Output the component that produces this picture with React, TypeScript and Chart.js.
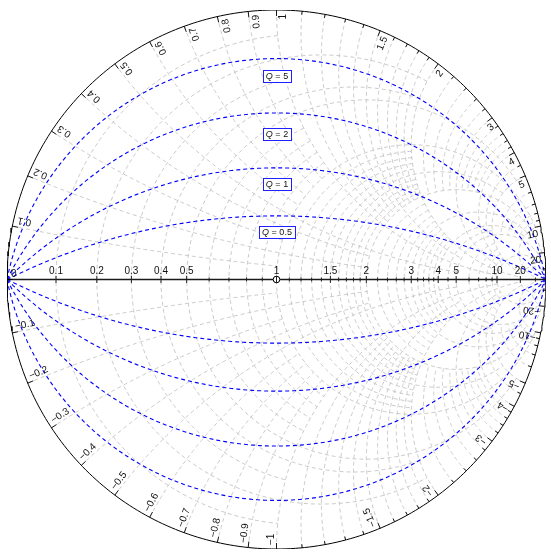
import React, { useEffect, useRef } from "react";
import { Chart, registerables } from "chart.js";

Chart.register(...registerables);

// ---- Real axis (resistance) ticks ----
const resistanceTicks = [0.1, 0.2, 0.3, 0.4, 0.5, 1, 1.5, 2, 3, 4, 5, 10, 20];
const resistanceTickLabels = ["0.1", "0.2", "0.3", "0.4", "0.5", "1", "1.5", "2", "3", "4", "5", "10", "20"];
const resistanceMinorTicks = [0.6, 0.7, 0.8, 0.9, 1.1, 1.2, 1.3, 1.4, 1.6, 1.7, 1.8, 1.9, 2.2, 2.4, 2.6, 2.8, 3.2, 3.4, 3.6, 3.8, 4.5, 6, 7, 8, 9, 50];

// ---- Rim (reactance) ticks ----
const reactanceTicks = [0, 0.1, 0.2, 0.3, 0.4, 0.5, 0.6, 0.7, 0.8, 0.9, 1, 1.5, 2, 3, 4, 5, 10, 20,
  -0.1, -0.2, -0.3, -0.4, -0.5, -0.6, -0.7, -0.8, -0.9, -1, -1.5, -2, -3, -4, -5, -10, -20];
const reactanceTickLabels = ["0", "0.1", "0.2", "0.3", "0.4", "0.5", "0.6", "0.7", "0.8", "0.9", "1", "1.5", "2", "3", "4", "5", "10", "20",
  "\u22120.1", "\u22120.2", "\u22120.3", "\u22120.4", "\u22120.5", "\u22120.6", "\u22120.7", "\u22120.8", "\u22120.9", "\u22121", "\u22121.5", "\u22122", "\u22123", "\u22124", "\u22125", "\u221210", "\u221220"];
const reactanceMinorTicks = [1.1, 1.2, 1.3, 1.4, 1.6, 1.7, 1.8, 1.9, 2.2, 2.4, 2.6, 2.8, 3.2, 3.4, 3.6, 3.8, 4.5, 6, 7, 8, 9, 50,
  -1.1, -1.2, -1.3, -1.4, -1.6, -1.7, -1.8, -1.9, -2.2, -2.4, -2.6, -2.8, -3.2, -3.4, -3.6, -3.8, -4.5, -6, -7, -8, -9, -50];

// ---- Grid: resistance circles and where they stop (|reactance|) ----
const gridResistance = [0.1, 0.2, 0.3, 0.4, 0.5, 0.6, 0.7, 0.8, 0.9, 1, 1.1, 1.2, 1.3, 1.4, 1.5, 1.6, 1.7, 1.8, 1.9, 2, 2.2, 2.4, 2.6, 2.8, 3, 3.2, 3.4, 3.6, 3.8, 4, 4.5, 5, 6, 7, 8, 9, 10, 20, 50];
const gridResistanceStop = [1, 2, 1, 2, 5, 1, 1, 1, 1, 10, 2, 2, 2, 2, 5, 2, 2, 2, 2, 20, 2, 2, 2, 2, 10, 2, 2, 2, 2, 10, 5, 20, 5, 5, 5, 5, 50, 50, 50];

// ---- Grid: reactance arcs and where they stop (resistance) ----
const gridReactance = [0.1, 0.2, 0.3, 0.4, 0.5, 0.6, 0.7, 0.8, 0.9, 1, 1.1, 1.2, 1.3, 1.4, 1.5, 1.6, 1.7, 1.8, 1.9, 2, 2.2, 2.4, 2.6, 2.8, 3, 3.2, 3.4, 3.6, 3.8, 4, 4.5, 5, 6, 7, 8, 9, 10, 20, 50];
const gridReactanceStop = [1, 2, 1, 2, 5, 1, 1, 1, 1, 10, 2, 2, 2, 2, 5, 2, 2, 2, 2, 20, 2, 2, 2, 2, 10, 2, 2, 2, 2, 10, 5, 20, 5, 5, 5, 5, 50, 50, 50];

// ---- Constant-Q circles ----
const qValues = [0.5, 1, 2, 5];
const qLabels = ["0.5", "1", "2", "5"];
const qLabelGammaIm = [0.177, 0.354, 0.539, 0.756];

type P = { x: number; y: number };

function gamma(r: number, x: number): P {
  const d = (r + 1) * (r + 1) + x * x;
  return { x: (r * r + x * x - 1) / d, y: (2 * x) / d };
}

function resistanceArc(r: number, xStop: number): P[] {
  const c = r / (1 + r);
  const rho = 1 / (1 + r);
  const g = gamma(r, xStop);
  let phi = Math.atan2(g.y, g.x - c);
  if (phi < 0) phi = 0;
  const pts: P[] = [];
  const n = 180;
  for (let i = 0; i <= n; i++) {
    const psi = phi + ((2 * Math.PI - 2 * phi) * i) / n;
    pts.push({ x: c + rho * Math.cos(psi), y: rho * Math.sin(psi) });
  }
  return pts;
}

function reactanceArc(x: number, rStop: number): P[] {
  const ax = Math.abs(x);
  const cy = 1 / ax;
  const rho = 1 / ax;
  const norm = (a: number) => (a < 0 ? a + 2 * Math.PI : a);
  const g0 = gamma(0, ax);
  const g1 = gamma(rStop, ax);
  const a0 = norm(Math.atan2(g0.y - cy, g0.x - 1));
  const a1 = norm(Math.atan2(g1.y - cy, g1.x - 1));
  const pts: P[] = [];
  const n = 140;
  const sgn = x < 0 ? -1 : 1;
  for (let i = 0; i <= n; i++) {
    const a = a0 + ((a1 - a0) * i) / n;
    pts.push({ x: 1 + rho * Math.cos(a), y: sgn * (cy + rho * Math.sin(a)) });
  }
  return pts;
}

function qArc(q: number, sgn: number): P[] {
  const c = -1 / q;
  const rho = Math.sqrt(1 + 1 / (q * q));
  const aStart = Math.PI - Math.atan(1 / q);
  const aEnd = Math.atan(1 / q);
  const pts: P[] = [];
  const n = 200;
  for (let i = 0; i <= n; i++) {
    const a = aStart + ((aEnd - aStart) * i) / n;
    pts.push({ x: rho * Math.cos(a), y: sgn * (c + rho * Math.sin(a)) });
  }
  return pts;
}

const FONT = "'Liberation Sans', Arial, Helvetica, sans-serif";

const smithPlugin = {
  id: "smithDecor",
  afterDatasetsDraw(chart: any) {
    const ctx: CanvasRenderingContext2D = chart.ctx;
    const xs = chart.scales.x;
    const ys = chart.scales.y;
    const cx = xs.getPixelForValue(0);
    const cy = ys.getPixelForValue(0);
    const R = xs.getPixelForValue(1) - cx;

    ctx.save();
    // rim ticks
    ctx.strokeStyle = "#000";
    ctx.lineWidth = 0.9;
    const rimTick = (x: number, len: number) => {
      const g = gamma(0, x);
      const th = Math.atan2(g.y, g.x);
      const ox = Math.cos(th), oy = -Math.sin(th);
      ctx.beginPath();
      ctx.moveTo(cx + R * ox, cy + R * oy);
      ctx.lineTo(cx + (R - len) * ox, cy + (R - len) * oy);
      ctx.stroke();
    };
    reactanceTicks.forEach((x) => rimTick(x, 6));
    reactanceMinorTicks.forEach((x) => rimTick(x, 3.5));

    // rim labels
    ctx.fillStyle = "#111";
    ctx.font = `10px ${FONT}`;
    reactanceTicks.forEach((x, i) => {
      const g = gamma(0, x);
      const th = Math.atan2(g.y, g.x);
      const ox = Math.cos(th), oy = -Math.sin(th);
      const px = cx + (R - 4) * ox;
      const py = cy + (R - 4) * oy;
      const a = Math.atan2(Math.sin(th), -Math.cos(th));
      ctx.save();
      ctx.translate(px, py);
      if (x > 0) {
        ctx.rotate(a + Math.PI);
        ctx.textAlign = "right";
        ctx.textBaseline = "top";
        ctx.fillText(reactanceTickLabels[i], 0, 2);
      } else {
        ctx.rotate(a);
        ctx.textAlign = "left";
        ctx.textBaseline = "alphabetic";
        ctx.fillText(reactanceTickLabels[i], 0, -2.5);
      }
      ctx.restore();
    });

    // real axis ticks
    ctx.lineWidth = 1;
    ctx.strokeStyle = "#222";
    const axisTick = (r: number, len: number) => {
      const px = xs.getPixelForValue((r - 1) / (r + 1));
      ctx.beginPath();
      ctx.moveTo(px, cy - len);
      ctx.lineTo(px, cy + len);
      ctx.stroke();
    };
    resistanceTicks.forEach((r) => axisTick(r, 3.5));
    resistanceMinorTicks.forEach((r) => axisTick(r, 2));

    ctx.textAlign = "center";
    ctx.textBaseline = "alphabetic";
    resistanceTicks.forEach((r, i) => {
      const px = xs.getPixelForValue((r - 1) / (r + 1));
      ctx.fillText(resistanceTickLabels[i], px, cy - 6);
    });

    // Q labels
    qValues.forEach((q, i) => {
      const px = xs.getPixelForValue(0) + 0.5;
      const py = ys.getPixelForValue(qLabelGammaIm[i]);
      ctx.font = `italic 9px ${FONT}`;
      const wq = ctx.measureText("Q").width;
      ctx.font = `9px ${FONT}`;
      const rest = " = " + qLabels[i];
      const wr = ctx.measureText(rest).width;
      const w = wq + wr + 6;
      const h = 12;
      ctx.fillStyle = "#fff";
      ctx.fillRect(px - w / 2, py - h / 2, w, h);
      ctx.strokeStyle = "#2020ff";
      ctx.lineWidth = 1;
      ctx.strokeRect(Math.round(px - w / 2) + 0.5, Math.round(py - h / 2) + 0.5, Math.round(w), h);
      ctx.fillStyle = "#111";
      ctx.textAlign = "left";
      ctx.textBaseline = "middle";
      ctx.font = `italic 9px ${FONT}`;
      ctx.fillText("Q", px - w / 2 + 3, py + 0.5);
      ctx.font = `9px ${FONT}`;
      ctx.fillText(rest, px - w / 2 + 3 + wq, py + 0.5);
    });
    ctx.restore();
  },
};

export default function App() {
  const ref = useRef<HTMLCanvasElement | null>(null);
  useEffect(() => {
    const datasets: any[] = [];
    const gridStyle = {
      showLine: true,
      pointRadius: 0,
      borderColor: "#c4c4c4",
      borderWidth: 0.9,
      borderDash: [4, 3],
      fill: false,
      order: 5,
    };
    gridResistance.forEach((r, i) => {
      datasets.push({ ...gridStyle, data: resistanceArc(r, gridResistanceStop[i]) });
    });
    gridReactance.forEach((x, i) => {
      datasets.push({ ...gridStyle, data: reactanceArc(x, gridReactanceStop[i]) });
      datasets.push({ ...gridStyle, data: reactanceArc(-x, gridReactanceStop[i]) });
    });
    qValues.forEach((q) => {
      [1, -1].forEach((s) => {
        datasets.push({
          showLine: true,
          pointRadius: 0,
          borderColor: "#0000ff",
          borderWidth: 1.1,
          borderDash: [4, 3],
          fill: false,
          order: 3,
          data: qArc(q, s),
        });
      });
    });
    // rim
    const rim: P[] = [];
    for (let i = 0; i <= 360; i++) {
      const a = (i * Math.PI) / 180;
      rim.push({ x: Math.cos(a), y: Math.sin(a) });
    }
    datasets.push({ showLine: true, pointRadius: 0, borderColor: "#000", borderWidth: 1, fill: false, order: 2, data: rim });
    // real axis
    datasets.push({ showLine: true, pointRadius: 0, borderColor: "#1a1a1a", borderWidth: 1.3, fill: false, order: 2, data: [{ x: -1, y: 0 }, { x: 1, y: 0 }] });
    // centre marker
    datasets.push({
      showLine: false,
      pointRadius: 3.3,
      pointStyle: "circle",
      pointBackgroundColor: "#fff",
      pointBorderColor: "#000",
      pointBorderWidth: 1,
      order: 1,
      data: [{ x: 0, y: 0 }],
    });

    const chart = new Chart(ref.current!, {
      type: "scatter",
      data: { datasets },
      options: {
        animation: false,
        responsive: true,
        maintainAspectRatio: false,
        events: [],
        layout: { padding: { left: 7, right: 2, top: 10, bottom: 2 } },
        plugins: { legend: { display: false }, tooltip: { enabled: false } },
        scales: {
          x: { type: "linear", min: -1, max: 1, display: false },
          y: { type: "linear", min: -1, max: 1, display: false },
        },
        elements: { line: { tension: 0 } },
      },
      plugins: [smithPlugin],
    });
    return () => chart.destroy();
  }, []);
  return (
    <div style={{ position: "fixed", left: 0, top: 0, width: 551, height: 554, background: "#fff" }}>
      <canvas ref={ref} />
    </div>
  );
}
